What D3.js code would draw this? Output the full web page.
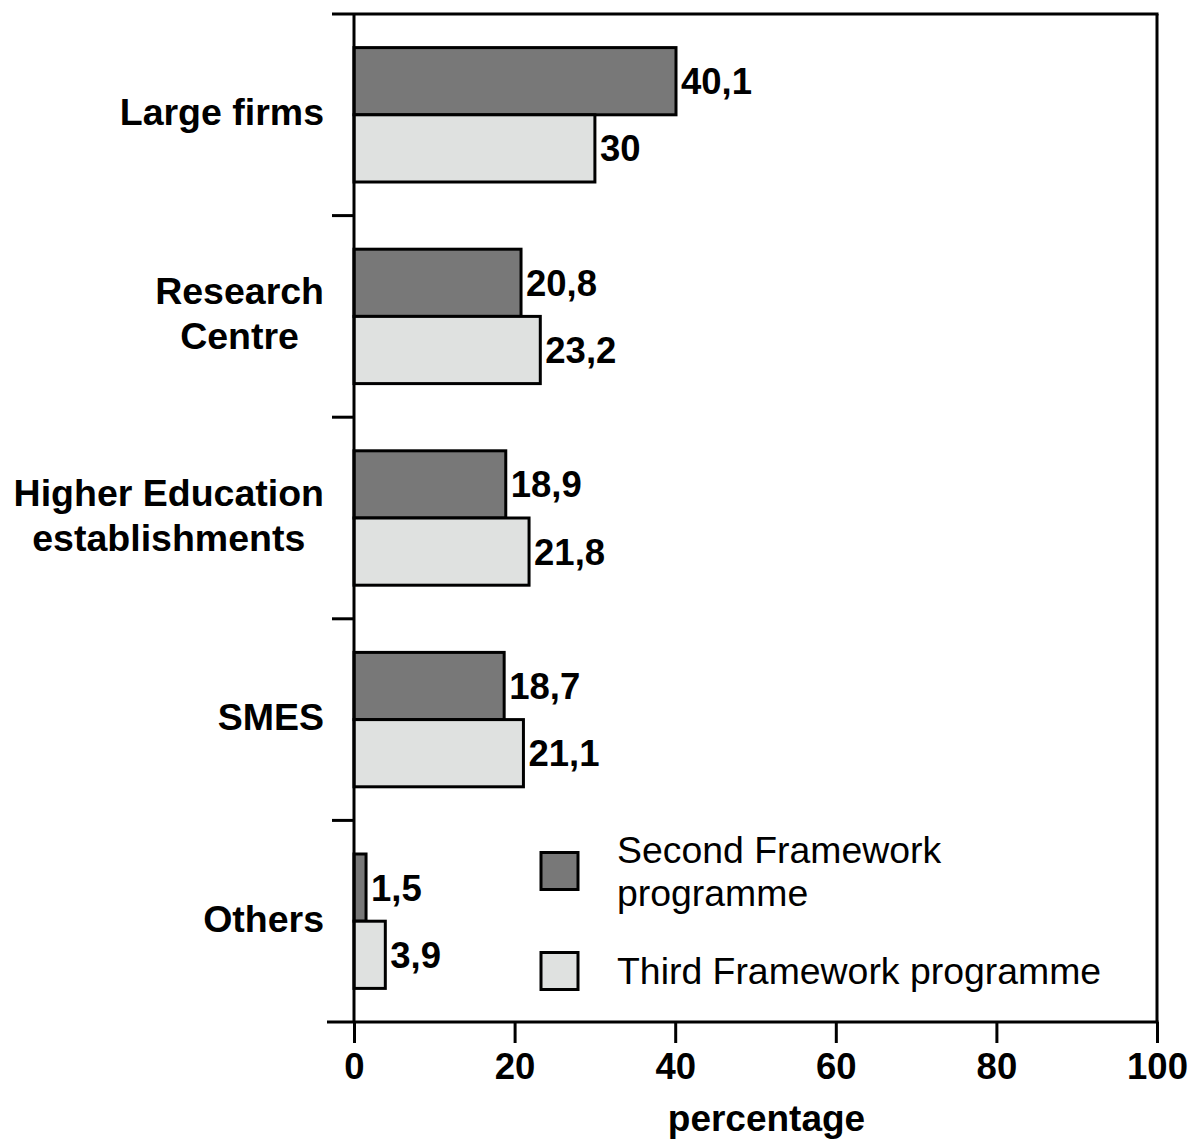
<!DOCTYPE html>
<html>
<head>
<meta charset="utf-8">
<script src="https://cdn.jsdelivr.net/npm/d3@7"></script>
<style>
  html, body { margin: 0; padding: 0; background: #fff; }
  svg { display: block; }
  text { font-family: "Liberation Sans", Arial, sans-serif; fill: #000; }
</style>
</head>
<body>
<svg id="chart" width="1191" height="1140"></svg>
<script>
// ---- data ----
const categories = ["Large firms", "Research Centre", "Higher Education establishments", "SMES", "Others"];
const categoryLines = [["Large firms"], ["Research", "Centre"], ["Higher Education", "establishments"], ["SMES"], ["Others"]];
const seriesNames = ["Second Framework programme", "Third Framework programme"];
const secondFP = [40.1, 20.8, 18.9, 18.7, 1.5];
const thirdFP = [30, 23.2, 21.8, 21.1, 3.9];
const valueLabelsSecond = ["40,1", "20,8", "18,9", "18,7", "1,5"];
const valueLabelsThird = ["30", "23,2", "21,8", "21,1", "3,9"];
const xTicks = [0, 20, 40, 60, 80, 100];
const legendLines = [["Second Framework", "programme"], ["Third Framework programme"]];

// ---- layout ----
const svg = d3.select("#chart");
const plotLeft = 354, plotRight = 1157, plotTop = 14, plotBottom = 1022;
const colors = ["#787878", "#dfe1e0"];

const x = d3.scaleLinear().domain([0, 100]).range([plotLeft, plotRight]);
const y = d3.scaleBand().domain(categories).range([plotTop, plotBottom]).padding(0);
const ySub = d3.scaleBand().domain(seriesNames).range([0, y.bandwidth()]).paddingInner(0).paddingOuter(0.5);

const series = [
  { name: seriesNames[0], values: secondFP, labels: valueLabelsSecond },
  { name: seriesNames[1], values: thirdFP, labels: valueLabelsThird }
];

// bars
series.forEach((s, si) => {
  const g = svg.append("g");
  g.selectAll("rect").data(categories).join("rect")
    .attr("x", x(0))
    .attr("y", (c) => y(c) + ySub(s.name))
    .attr("width", (c, i) => x(s.values[i]) - x(0))
    .attr("height", ySub.bandwidth())
    .attr("fill", colors[si])
    .attr("stroke", "#000")
    .attr("stroke-width", 3);
  g.selectAll("text").data(categories).join("text")
    .attr("x", (c, i) => x(s.values[i]) + 5)
    .attr("y", (c) => y(c) + ySub(s.name) + ySub.bandwidth() / 2 + 13)
    .attr("font-size", 36.5)
    .attr("font-weight", "bold")
    .text((c, i) => s.labels[i]);
});

// frame: top line and right line
svg.append("line").attr("x1", 332).attr("x2", plotRight + 1.5).attr("y1", plotTop).attr("y2", plotTop)
  .attr("stroke", "#000").attr("stroke-width", 3);
svg.append("line").attr("x1", plotRight).attr("x2", plotRight).attr("y1", plotTop).attr("y2", plotBottom)
  .attr("stroke", "#000").attr("stroke-width", 3);

// left axis
svg.append("line").attr("x1", plotLeft).attr("x2", plotLeft).attr("y1", plotTop).attr("y2", plotBottom)
  .attr("stroke", "#000").attr("stroke-width", 3);
const boundaries = categories.slice(1).map(c => y(c));
svg.selectAll(".ytick").data(boundaries).join("line")
  .attr("x1", 332).attr("x2", plotLeft).attr("y1", d => d).attr("y2", d => d)
  .attr("stroke", "#000").attr("stroke-width", 3);

// category labels
categories.forEach((c, i) => {
  const lines = categoryLines[i];
  const cy = y(c) + y.bandwidth() / 2 - 3;
  const lh = 45;
  const t = svg.append("text")
    .attr("font-size", 37.5).attr("font-weight", "bold")
    .attr("text-anchor", "middle");
  lines.forEach((ln, li) => {
    t.append("tspan").attr("x", 0)
      .attr("y", cy + 13.5 + (li - (lines.length - 1) / 2) * lh)
      .text(ln);
  });
  const w = t.node().getBBox().width;
  t.selectAll("tspan").attr("x", 324 - w / 2);
});

// bottom axis
const xAxis = d3.axisBottom(x).tickValues(xTicks).tickSize(21).tickPadding(10).tickFormat(d3.format("d"));
const ax = svg.append("g").attr("transform", `translate(0,${plotBottom})`).call(xAxis);
ax.select(".domain").remove();
ax.selectAll(".tick line").attr("stroke", "#000").attr("stroke-width", 3);
ax.selectAll(".tick text").attr("font-size", 36.5).attr("font-weight", "bold")
  .attr("font-family", "Liberation Sans, Arial, sans-serif").attr("fill", "#000");
svg.append("line").attr("x1", 327).attr("x2", plotRight + 1.5).attr("y1", plotBottom).attr("y2", plotBottom)
  .attr("stroke", "#000").attr("stroke-width", 3);

svg.append("text").attr("x", (plotLeft + plotRight) / 2 + 11).attr("y", 1131)
  .attr("text-anchor", "middle").attr("font-size", 37).attr("font-weight", "bold")
  .text("percentage");

// legend
const legend = svg.append("g");
const legendY = [871, 971];
legendLines.forEach((lines, i) => {
  legend.append("rect").attr("x", 541).attr("y", legendY[i] - 18.5)
    .attr("width", 37).attr("height", 37)
    .attr("fill", colors[i]).attr("stroke", "#000").attr("stroke-width", 3);
  const t = legend.append("text").attr("font-size", 37.4);
  lines.forEach((ln, li) => {
    t.append("tspan").attr("x", 617)
      .attr("y", legendY[i] + 13 + (li - (lines.length - 1) / 2) * 43)
      .text(ln);
  });
});
</script>
</body>
</html>
